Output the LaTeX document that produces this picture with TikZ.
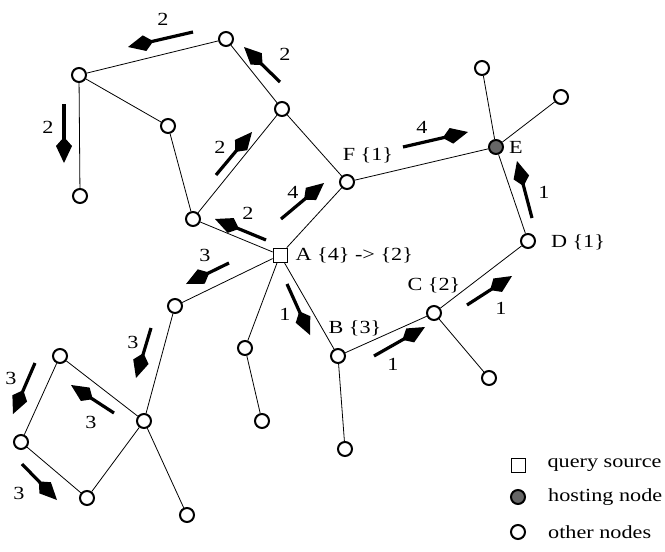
\documentclass[tikz,border=0pt]{standalone}
\usepackage{fontspec}
\setmainfont[FakeStretch=1.2]{Liberation Serif}
\usetikzlibrary{arrows.meta,positioning}
\tikzset{
  other/.style={circle, draw, line width=2pt, fill=white, minimum size=14pt, inner sep=0pt},
  host/.style={other, fill=black!60},
  source/.style={rectangle, draw, line width=0.7pt, fill=white, minimum size=14pt, inner sep=0pt},
  link/.style={line width=0.8pt},
  hop/.style={line width=3.2pt, -{Kite[length=26pt, width=16pt, inset=9pt]}},
  lbl/.style={inner sep=0pt, font=\fontsize{18.5}{22}\selectfont}
}

\begin{document}
\begin{tikzpicture}[x=1pt, y=-1pt]
    \useasboundingbox (0,0) rectangle (665,552);
    % nodes of the overlay
    \node[source] (A) at (280,255) {};
    \node[other] (F) at (347,182) {};
    \node[host] (E) at (496,147) {};
    \node[other] (D) at (528,241) {};
    \node[other] (C) at (434,313) {};
    \node[other] (B) at (338,356) {};
    \node[other] (n1) at (226,39) {};
    \node[other] (n2) at (79,75) {};
    \node[other] (n3) at (80,196) {};
    \node[other] (n4) at (168,126) {};
    \node[other] (n5) at (282,109) {};
    \node[other] (n6) at (193,219) {};
    \node[other] (e1) at (482,68) {};
    \node[other] (e2) at (561,97) {};
    \node[other] (c1) at (489,378) {};
    \node[other] (b1) at (345,449) {};
    \node[other] (a1) at (245,348) {};
    \node[other] (a2) at (262,421) {};
    \node[other] (l1) at (175,306) {};
    \node[other] (hub) at (144,421) {};
    \node[other] (h1) at (187,515) {};
    \node[other] (q1) at (60,356) {};
    \node[other] (q2) at (21,442) {};
    \node[other] (q3) at (87,498) {};
    % links
    \foreach \u/\v in {n1/n2, n2/n3, n2/n4, n4/n6, n1/n5, n5/n6, n5/F, F/A, n6/A,
                       F/E, E/e1, E/e2, E/D, D/C, C/c1, C/B, B/A, B/b1, A/a1, a1/a2,
                       A/l1, l1/hub, hub/q1, q1/q2, q2/q3, q3/hub, hub/h1}{
        \draw[link] (\u) -- (\v);
    }
    % query forwarding
    \foreach \xa/\ya/\xb/\yb/\xl/\yl/\n in {193/32/128/47/163/19/2, 280/82/244/47/285/54/2,
            64/104/64/163/48/127/2, 216/175/252/132/220/147/2, 266/240/215/219/248/213/2,
            281/219/324/183/293/192/4, 403/147/468/132/422/127/4, 532/218/517/161/544/192/1,
            467/305/512/276/501/308/1, 374/356/425/327/393/364/1, 287/284/310/335/285/314/1,
            229/263/186/284/205/255/3, 151/328/136/378/133/342/3, 114/413/71/385/91/422/3,
            35/363/13/414/11/378/3, 22/464/57/500/19/493/3}{
        \draw[hop] (\xa,\ya) -- (\xb,\yb);
        \node[lbl] at (\xl,\yl) {\n};
    }
    % node labels
    \node[lbl, right=8pt of A] {A \{4\} -{}> \{2\}};
    \node[lbl] at (368,155) {F \{1\}};
    \node[lbl, right=5pt of E] {E};
    \node[lbl] at (578,242) {D \{1\}};
    \node[lbl] at (434,285) {C \{2\}};
    \node[lbl] at (355,328) {B \{3\}};
    % legend
    \node[source] (lsrc) at (518,465) {};
    \node[host] (lhost) at (518,497) {};
    \node[other] (loth) at (518,532) {};
    \node[lbl, right=22pt of lsrc] {query source};
    \node[lbl, right=22pt of lhost] {hosting node};
    \node[lbl, right=22pt of loth] {other nodes};
\end{tikzpicture}
\end{document}
